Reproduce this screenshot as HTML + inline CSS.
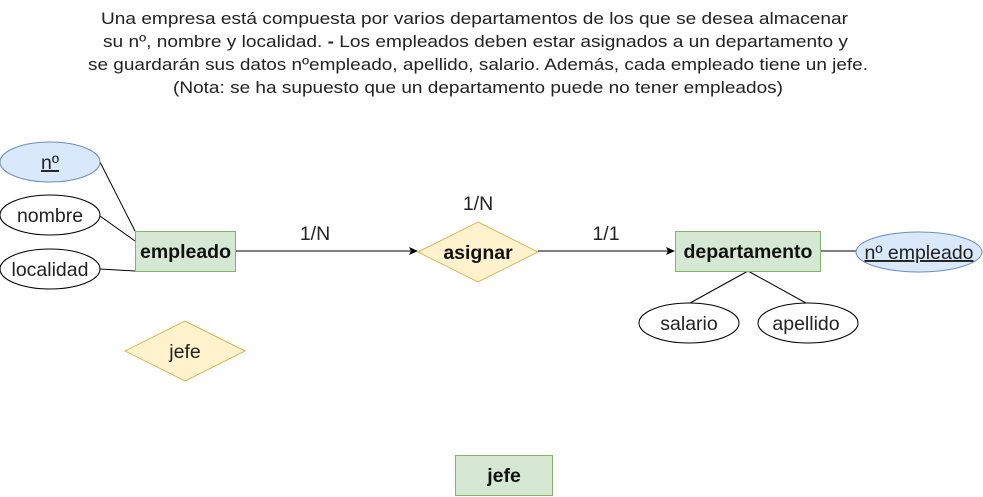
<!DOCTYPE html>
<html><head><meta charset="utf-8"><style>
html,body{margin:0;padding:0;background:#fff;}
svg{display:block;font-family:"Liberation Sans",Arial,sans-serif;}
</style></head><body>
<svg width="983" height="497" viewBox="0 0 983 497" xmlns="http://www.w3.org/2000/svg">
<defs><marker id="a" markerWidth="10" markerHeight="10" refX="8" refY="5" orient="auto" markerUnits="userSpaceOnUse"><path d="M0,1 L9,5 L0,9 L2,5 Z" fill="#000"/></marker></defs>
<g font-size="16.5" fill="#222" text-anchor="middle">
<text x="474.5" y="24" textLength="747" lengthAdjust="spacingAndGlyphs">Una empresa está compuesta por varios departamentos de los que se desea almacenar</text>
<text x="475.5" y="47" textLength="745" lengthAdjust="spacingAndGlyphs">su nº, nombre y localidad. <tspan font-weight="bold">-</tspan> Los empleados deben estar asignados a un departamento y</text>
<text x="478" y="70" textLength="780" lengthAdjust="spacingAndGlyphs">se guardarán sus datos nºempleado, apellido, salario. Además, cada empleado tiene un jefe.</text>
<text x="478" y="93" textLength="610" lengthAdjust="spacingAndGlyphs">(Nota: se ha supuesto que un departamento puede no tener empleados)</text>
</g>
<g stroke="#000" stroke-width="1" fill="none">
<line x1="100" y1="162" x2="135" y2="231"/>
<line x1="100" y1="216" x2="135" y2="241"/>
<line x1="100" y1="269" x2="135" y2="271"/>
<line x1="235" y1="251" x2="417" y2="251" marker-end="url(#a)"/>
<line x1="538" y1="251" x2="674" y2="251" marker-end="url(#a)"/>
<line x1="820" y1="251" x2="856" y2="251"/>
<line x1="748" y1="271" x2="690" y2="303"/>
<line x1="748" y1="271" x2="806" y2="303"/>
</g>
<ellipse cx="50" cy="162" rx="50" ry="20" fill="#dae8fc" stroke="#6c8ebf"/>
<ellipse cx="50" cy="215" rx="50" ry="20" fill="#fff" stroke="#000"/>
<ellipse cx="50" cy="269" rx="50" ry="20" fill="#fff" stroke="#000"/>
<rect x="135.5" y="231.5" width="100" height="40" fill="#d5e8d4" stroke="#82b366"/>
<polygon points="185,321 245,351 185,381 125,351" fill="#fff2cc" stroke="#d6b656"/>
<polygon points="478,222 538,252 478,282 418,252" fill="#fff2cc" stroke="#d6b656"/>
<rect x="675.5" y="231.5" width="145" height="40" fill="#d5e8d4" stroke="#82b366"/>
<ellipse cx="919" cy="252" rx="63" ry="20" fill="#dae8fc" stroke="#6c8ebf"/>
<ellipse cx="689" cy="323" rx="50" ry="20" fill="#fff" stroke="#000"/>
<ellipse cx="808" cy="323" rx="50" ry="20" fill="#fff" stroke="#000"/>
<rect x="455.5" y="455.5" width="97" height="40" fill="#d5e8d4" stroke="#82b366"/>
<g font-size="19.5" fill="#222" text-anchor="middle">
<text x="50" y="169" text-decoration="underline">nº</text>
<text x="50" y="222">nombre</text>
<text x="50" y="276">localidad</text>
<text x="185" y="358">jefe</text>
<text x="689" y="330">salario</text>
<text x="806" y="330">apellido</text>
<text x="919" y="259" text-decoration="underline">nº empleado</text>
<text x="315" y="240">1/N</text>
<text x="478" y="210">1/N</text>
<text x="606" y="240">1/1</text>
</g>
<g font-size="19.5" font-weight="bold" fill="#111" text-anchor="middle">
<text x="185.5" y="258">empleado</text>
<text x="478" y="259">asignar</text>
<text x="748" y="258">departamento</text>
<text x="504" y="482">jefe</text>
</g>
</svg>
</body></html>
